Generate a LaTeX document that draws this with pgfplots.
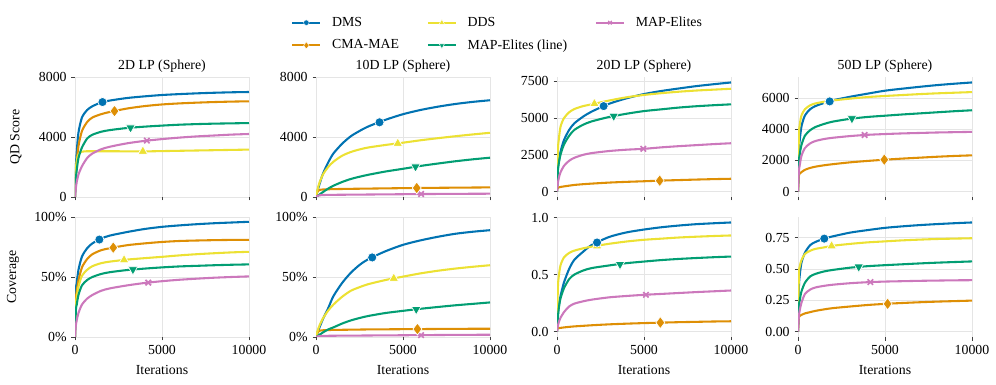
\documentclass[border=0pt]{standalone}
\usepackage{fontspec}
\setmainfont{Liberation Serif}
\usepackage{pgfplots}
\usepgfplotslibrary{groupplots}
\pgfplotsset{compat=1.18}
\usepackage{pgfplotstable}

\definecolor{cDMS}{HTML}{0173B2}
\definecolor{cCMA}{HTML}{DE8F05}
\definecolor{cDDS}{HTML}{ECE133}
\definecolor{cMEL}{HTML}{029E73}
\definecolor{cME}{HTML}{CC78BC}

\pgfplotsset{
  lDMS/.style={cDMS, line width=1.5pt, no marks, smooth, tension=0.45},
  lCMA/.style={cCMA, line width=1.5pt, no marks, smooth, tension=0.45},
  lDDS/.style={cDDS, line width=1.5pt, no marks, smooth, tension=0.45},
  lMEL/.style={cMEL, line width=1.5pt, no marks, smooth, tension=0.45},
  lME/.style={cME, line width=1.5pt, no marks, smooth, tension=0.45},
  mDMS/.style={only marks, mark=*, mark size=3.3pt, mark options={fill=cDMS, draw=white, line width=0.5pt}},
  mCMA/.style={only marks, mark=diamond*, mark size=4.3pt, mark options={fill=cCMA, draw=white, line width=0.5pt}},
  mDDS/.style={only marks, mark=triangle*, mark size=4pt, mark options={fill=cDDS, draw=white, line width=0.5pt}},
  mMEL/.style={only marks, mark=triangle*, mark size=4pt, mark options={rotate=180, fill=cMEL, draw=white, line width=0.5pt}},
  mME/.style={only marks, mark=x, mark size=2.8pt, mark options={draw=cME, line width=1.2pt}},
}

\pgfplotstableread{
x dms cma dds mel me
0 0 0 0 0 0
50 2000 1500 1800 1200 600
100 3000 2300 2400 1800 1000
200 4300 3400 2850 2600 1500
400 5300 4400 3020 3300 2050
700 5800 5000 3050 3900 2600
1000 6050 5300 3050 4150 2900
1500 6300 5520 3050 4350 3180
2000 6430 5670 3050 4460 3350
3000 6600 5900 3045 4600 3580
4000 6710 6060 3040 4690 3740
5000 6800 6170 3060 4760 3860
6000 6860 6240 3080 4820 3960
7000 6910 6290 3100 4860 4040
8000 6950 6330 3120 4890 4100
9000 6980 6360 3140 4910 4160
10000 7000 6380 3160 4930 4200
}\tA

\pgfplotstableread{
x dms cma dds mel me
0 0 0 0 0 0
50 250 250 300 30 50
100 450 380 550 70 80
200 850 470 950 160 110
400 1550 500 1500 330 130
700 2300 515 2000 560 140
1000 2900 525 2350 750 145
1500 3550 535 2750 1000 150
2000 4050 545 3000 1200 155
2500 4400 552 3170 1350 160
3000 4700 560 3300 1480 165
4000 5150 575 3470 1700 175
5000 5520 590 3620 1880 185
6000 5800 603 3780 2070 195
7000 6020 613 3920 2230 203
8000 6200 622 4050 2380 210
9000 6340 631 4170 2510 215
10000 6450 640 4280 2620 220
}\tB

\pgfplotstableread{
x dms cma dds mel me
0 0 150 0 0 0
50 1500 250 2800 1400 600
100 2000 280 3500 1900 900
200 2700 310 4400 2500 1300
400 3500 350 5000 3200 1750
700 4200 400 5400 3800 2100
1000 4650 450 5620 4200 2300
1500 5100 500 5820 4550 2500
2000 5450 540 5940 4780 2620
3000 5980 610 6200 5080 2760
4000 6350 660 6420 5300 2850
5000 6640 700 6580 5480 2910
6000 6850 745 6700 5600 3010
7000 7020 780 6800 5720 3090
8000 7180 815 6880 5810 3160
9000 7310 845 6940 5880 3230
10000 7430 870 7000 5940 3290
}\tC

\pgfplotstableread{
x dms cma dds mel me
0 0 0 0 0 0
50 2700 1000 3600 1900 1300
100 3300 1150 4300 2400 1700
200 4200 1250 4900 3000 2300
400 4900 1400 5300 3600 2800
700 5300 1520 5550 3950 3100
1000 5500 1600 5670 4150 3250
1500 5700 1690 5780 4350 3380
2000 5870 1760 5860 4500 3460
3000 6100 1880 5980 4680 3570
4000 6300 1970 6080 4800 3650
5000 6490 2050 6150 4880 3700
6000 6620 2120 6210 4960 3740
7000 6740 2180 6270 5030 3770
8000 6850 2240 6320 5100 3800
9000 6940 2290 6360 5170 3820
10000 7020 2330 6400 5230 3840
}\tD

\pgfplotstableread{
x dms cma dds mel me
0 0 0 0 0 0
50 38 31 27 22 10
100 45 38 33 27 14
200 56 47 42 35 20
400 67 58 51 43 27
700 74 65 56 47.5 32
1000 78 69 59 50 35
1500 82 72.3 61.5 52.5 38.5
2000 84.5 74 62.8 54 40.5
3000 87.5 76.5 64.5 55.8 43
4000 90 78 65.7 57 45
5000 91.8 79.2 66.8 58 46.5
6000 93 80 68 58.8 47.7
7000 94 80.4 69 59.3 48.6
8000 94.8 80.7 69.8 59.8 49.4
9000 95.4 80.9 70.5 60.2 50
10000 96 81 71 60.5 50.5
}\tE

\pgfplotstableread{
x dms cma dds mel me
0 0 0 0 0 0
50 2 2.5 3 0.3 0.3
100 4 4 5.5 0.8 0.5
200 8 5.2 9.5 1.8 0.7
400 15 5.6 15.5 3.8 0.9
700 24 5.8 22 6.3 1.0
1000 34 5.9 27 8 1.05
1500 45 6 33.5 11.2 1.1
2000 53.5 6.1 38.5 13.8 1.15
2500 60 6.2 41.5 15.8 1.2
3000 64.8 6.3 44 17.5 1.25
4000 71.5 6.4 47.5 20 1.35
5000 76.8 6.5 50.3 21.8 1.45
6000 80.5 6.6 53 23.5 1.55
7000 83.5 6.7 55.2 25 1.65
8000 86 6.8 57 26.4 1.75
9000 87.7 6.85 58.5 27.6 1.82
10000 89 6.9 59.8 28.8 1.9
}\tF

\pgfplotstableread{
x dms cma dds mel me
0 0 0.025 0 0 0
50 0.15 0.027 0.38 0.12 0.05
100 0.22 0.03 0.48 0.2 0.08
200 0.31 0.032 0.58 0.29 0.12
400 0.43 0.036 0.65 0.38 0.17
700 0.55 0.041 0.69 0.46 0.22
1000 0.63 0.045 0.71 0.5 0.245
1500 0.70 0.05 0.73 0.535 0.265
2000 0.76 0.055 0.745 0.557 0.28
3000 0.83 0.063 0.77 0.58 0.30
4000 0.87 0.069 0.79 0.60 0.312
5000 0.895 0.074 0.805 0.614 0.322
6000 0.915 0.078 0.815 0.627 0.33
7000 0.93 0.082 0.825 0.637 0.338
8000 0.942 0.085 0.832 0.645 0.346
9000 0.95 0.088 0.838 0.652 0.353
10000 0.957 0.09 0.843 0.658 0.36
}\tG

\pgfplotstableread{
x dms cma dds mel me
0 0 0 0 0 0
50 0.35 0.11 0.45 0.2 0.12
100 0.45 0.125 0.52 0.25 0.17
200 0.55 0.133 0.57 0.32 0.23
400 0.63 0.145 0.62 0.39 0.30
700 0.69 0.155 0.645 0.44 0.335
1000 0.715 0.165 0.66 0.46 0.352
1500 0.742 0.177 0.672 0.48 0.365
2000 0.76 0.187 0.685 0.492 0.374
3000 0.79 0.2 0.70 0.51 0.386
4000 0.81 0.212 0.712 0.522 0.394
5000 0.828 0.221 0.72 0.53 0.399
6000 0.84 0.228 0.728 0.537 0.402
7000 0.85 0.234 0.734 0.544 0.405
8000 0.858 0.239 0.739 0.55 0.407
9000 0.865 0.243 0.742 0.555 0.409
10000 0.871 0.247 0.745 0.56 0.41
}\tH

\newcommand{\curves}[1]{%
  \addplot[lDMS] table[x=x,y=dms]{#1};
  \addplot[lCMA] table[x=x,y=cma]{#1};
  \addplot[lDDS] table[x=x,y=dds]{#1};
  \addplot[lMEL] table[x=x,y=mel]{#1};
  \addplot[lME] table[x=x,y=me]{#1};
}

\begin{document}
\begin{tikzpicture}
\begin{groupplot}[
  group style={group name=G, group size=4 by 2, horizontal sep=0.67in, vertical sep=0.2in},
  width=1.74in, height=1.2in, scale only axis,
  xmin=0, xmax=10000, xtick={0,5000,10000}, xticklabels={},
  scaled ticks=false,
  axis line style={draw=none},
  tick pos=left, tick align=outside,
  major tick length=0.035in,
  tick style={color=black!75, line width=0.6pt},
  grid=major, grid style={color=black!10, line width=0.6pt},
  title style={yshift=-6.5pt},
  legend image code/.code={\draw[mark repeat=2,mark phase=2,#1] plot coordinates {(0in,0in)(0.14in,0in)(0.28in,0in)}; \path (0.36in,0in);},
]
\nextgroupplot[title={2D LP (Sphere)}, ymin=0, ymax=8000, ytick={0,4000,8000}, yticklabels={0,4000,8000},
  ylabel={QD Score}, ylabel style={at={(axis description cs:-0.339,0.5)}, anchor=center},
  legend columns=3, legend cell align=left,
  legend style={at={(2.431,1.55)}, anchor=north, draw=none, fill=none, row sep=4pt,
    /tikz/every even column/.append style={column sep=0.25in}}]
\addlegendimage{cDMS, line width=1.5pt, mark=*, mark size=2pt, mark options={fill=cDMS, draw=white, line width=0.3pt}}
\addlegendentry{DMS}
\addlegendimage{cDDS, line width=1.5pt, mark=triangle*, mark size=2.3pt, mark options={fill=cDDS, draw=white, line width=0.3pt}}
\addlegendentry{DDS}
\addlegendimage{cME, line width=1.5pt, mark=x, mark size=1.8pt, mark options={draw=cME, line width=0.9pt}}
\addlegendentry{MAP-Elites}
\addlegendimage{cCMA, line width=1.5pt, mark=diamond*, mark size=2.6pt, mark options={fill=cCMA, draw=white, line width=0.3pt}}
\addlegendentry{CMA-MAE}
\addlegendimage{cMEL, line width=1.5pt, mark=triangle*, mark size=2.3pt, mark options={rotate=180, fill=cMEL, draw=white, line width=0.3pt}}
\addlegendentry{MAP-Elites (line)}
\curves{\tA}
\addplot[mME] coordinates {(4130,3760)};
\addplot[mMEL] coordinates {(3190,4620)};
\addplot[mDDS] coordinates {(3900,3040)};
\addplot[mCMA] coordinates {(2270,5730)};
\addplot[mDMS] coordinates {(1580,6330)};

\nextgroupplot[title={10D LP (Sphere)}, ymin=0, ymax=8000, ytick={0,4000,8000}, yticklabels={0,4000,8000}]
\curves{\tB}
\addplot[mME] coordinates {(6040,200)};
\addplot[mMEL] coordinates {(5720,2020)};
\addplot[mDDS] coordinates {(4700,3570)};
\addplot[mCMA] coordinates {(5790,600)};
\addplot[mDMS] coordinates {(3650,4980)};

\nextgroupplot[title={20D LP (Sphere)}, ymin=-372, ymax=7802, ytick={0,2500,5000,7500}, yticklabels={0,2500,5000,7500}]
\curves{\tC}
\addplot[mME] coordinates {(4960,2910)};
\addplot[mMEL] coordinates {(3260,5140)};
\addplot[mDDS] coordinates {(2150,5980)};
\addplot[mCMA] coordinates {(5900,740)};
\addplot[mDMS] coordinates {(2680,5820)};

\nextgroupplot[title={50D LP (Sphere)}, ymin=-351, ymax=7371, ytick={0,2000,4000,6000}, yticklabels={0,2000,4000,6000}]
\curves{\tD}
\addplot[mME] coordinates {(3830,3640)};
\addplot[mMEL] coordinates {(3100,4700)};
\addplot[mDDS] coordinates {(1760,5810)};
\addplot[mCMA] coordinates {(4960,2050)};
\addplot[mDMS] coordinates {(1820,5800)};

\nextgroupplot[ymin=0, ymax=100, ytick={0,50,100}, yticklabels={0\%,50\%,100\%},
  xticklabels={0,5000,10000}, xlabel={Iterations}, xlabel style={at={(axis description cs:0.5,-0.275)}, anchor=center},
  ylabel={Coverage}, ylabel style={at={(axis description cs:-0.356,0.5)}, anchor=center}]
\curves{\tE}
\addplot[mME] coordinates {(4210,45.3)};
\addplot[mMEL] coordinates {(3330,56.3)};
\addplot[mDDS] coordinates {(2820,64.2)};
\addplot[mCMA] coordinates {(2200,74.5)};
\addplot[mDMS] coordinates {(1400,81.2)};

\nextgroupplot[ymin=0, ymax=100, ytick={0,50,100}, yticklabels={0\%,50\%,100\%},
  xticklabels={0,5000,10000}, xlabel={Iterations}, xlabel style={at={(axis description cs:0.5,-0.275)}, anchor=center}]
\curves{\tF}
\addplot[mME] coordinates {(6040,1.55)};
\addplot[mMEL] coordinates {(5760,23.1)};
\addplot[mDDS] coordinates {(4470,48.8)};
\addplot[mCMA] coordinates {(5830,6.6)};
\addplot[mDMS] coordinates {(3230,66.3)};

\nextgroupplot[ymin=-0.048, ymax=1.005, ytick={0,0.5,1}, yticklabels={0.0,0.5,1.0},
  xticklabels={0,5000,10000}, xlabel={Iterations}, xlabel style={at={(axis description cs:0.5,-0.275)}, anchor=center}]
\curves{\tG}
\addplot[mME] coordinates {(5110,0.322)};
\addplot[mMEL] coordinates {(3620,0.59)};
\addplot[mDDS] coordinates {(2300,0.75)};
\addplot[mCMA] coordinates {(5940,0.078)};
\addplot[mDMS] coordinates {(2300,0.781)};

\nextgroupplot[ymin=-0.0436, ymax=0.9146, ytick={0,0.25,0.5,0.75}, yticklabels={0.00,0.25,0.50,0.75},
  xticklabels={0,5000,10000}, xlabel={Iterations}, xlabel style={at={(axis description cs:0.5,-0.275)}, anchor=center}]
\curves{\tH}
\addplot[mME] coordinates {(4160,0.395)};
\addplot[mMEL] coordinates {(3490,0.516)};
\addplot[mDDS] coordinates {(1930,0.683)};
\addplot[mCMA] coordinates {(5150,0.221)};
\addplot[mDMS] coordinates {(1510,0.742)};
\end{groupplot}
\pgfresetboundingbox
\path[use as bounding box] (G c1r1.north west) ++(-0.75in,0.77in) rectangle ++(9.96in,-3.85in);
\end{tikzpicture}
\end{document}
